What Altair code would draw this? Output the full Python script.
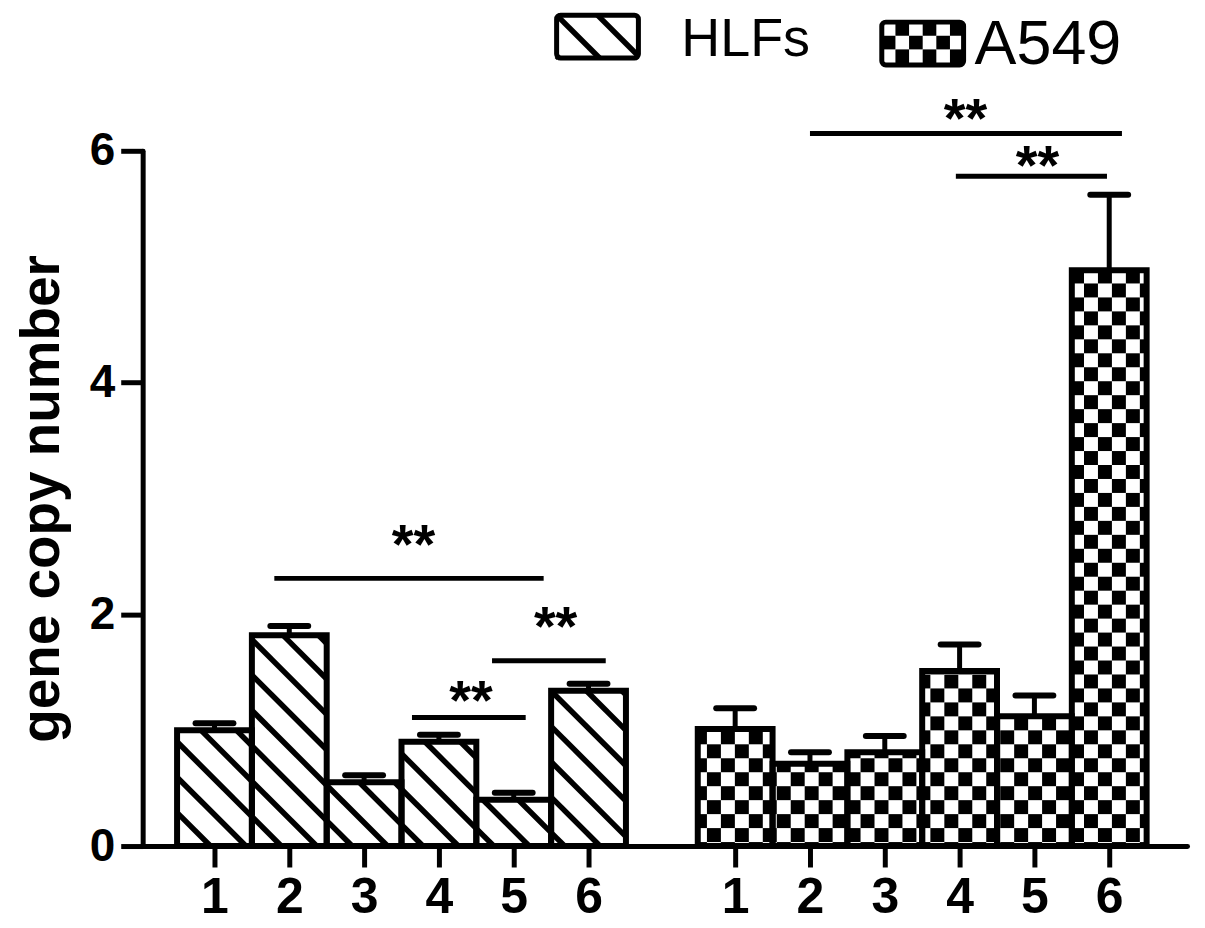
import json
import math
import altair as alt
import pandas as pd

# ---------------- data ----------------
groups = ["HLFs", "A549"]
labels = ["1", "2", "3", "4", "5", "6"]
hlf_mean = [1.00, 1.82, 0.55, 0.90, 0.40, 1.34]
hlf_err = [0.06, 0.08, 0.06, 0.06, 0.06, 0.06]
a549_mean = [1.01, 0.71, 0.81, 1.51, 1.12, 4.97]
a549_err = [0.18, 0.10, 0.14, 0.23, 0.18, 0.65]

# significance brackets (x from, x to, line height) and their "**" marks
sig_from = [1.80, 4.71, 3.64, 8.96, 10.91]
sig_to = [5.40, 6.23, 5.16, 13.13, 12.93]
sig_y = [2.31, 1.60, 1.11, 6.15, 5.78]
sig_star_x = [3.66, 5.56, 4.43, 11.04, 12.00]
sig_star_y = [2.71, 2.00, 1.36, 6.39, 5.98]
sig_text = ["**", "**", "**", "**", "**"]

# ---------------- layout ----------------
W, H = 1047, 697
X0, X1 = 0.04, 14.0
Y0, Y1 = 0.0, 6.0
GAP = 6.96
PPX = W / (X1 - X0)
PPY = H / (Y1 - Y0)
FONT = "Liberation Sans"


def x2px(x):
    return (x - X0) * PPX


def y2py(y):
    return (Y1 - y) * PPY


def px2x(px):
    return X0 + px / PPX


def py2y(py):
    return Y1 - py / PPY


def hatch(x0, x1, y0, y1, period, phase):
    segs = []
    cmin, cmax = y0 - x1, y1 - x0
    k0 = math.ceil((cmin - phase) / period)
    k1 = math.floor((cmax - phase) / period)
    for k in range(k0, k1 + 1):
        c = phase + k * period
        xa = max(x0, y0 - c)
        xb = min(x1, y1 - c)
        if xb - xa > 0.5:
            segs.append((xa, xa + c, xb, xb + c))
    return segs


def checker(x0, x1, y0, y1, size, ox, oy, parity=0):
    cells = []
    i0 = math.floor((x0 - ox) / size)
    i1 = math.floor((x1 - ox) / size)
    j0 = math.floor((y0 - oy) / size)
    j1 = math.floor((y1 - oy) / size)
    for i in range(i0, i1 + 1):
        for j in range(j0, j1 + 1):
            if (i + j) % 2 != parity:
                continue
            cx0 = max(x0, ox + i * size)
            cx1 = min(x1, ox + (i + 1) * size)
            cy0 = max(y0, oy + j * size)
            cy1 = min(y1, oy + (j + 1) * size)
            if cx1 - cx0 > 0.3 and cy1 - cy0 > 0.3:
                cells.append((cx0, cy0, cx1, cy1))
    return cells


# bars table
rows = []
for gi, (g, means, errs) in enumerate([("HLFs", hlf_mean, hlf_err), ("A549", a549_mean, a549_err)]):
    for i, (m, e) in enumerate(zip(means, errs)):
        pos = i + 1 + gi * GAP
        rows.append(dict(group=g, label=labels[i], pos=pos, xl=pos - 0.5, xr=pos + 0.5,
                         mean=m, top=m + e, capl=pos - 0.253, capr=pos + 0.253, base=0.0))
bars = pd.DataFrame(rows)

# pattern marks derived from the bars
hatch_rows, cell_rows = [], []
for r in rows:
    bx0, bx1 = x2px(r["xl"]), x2px(r["xr"])
    by0, by1 = y2py(r["mean"]), y2py(0.0)
    if r["group"] == "HLFs":
        for (xa, ya, xb, yb) in hatch(bx0, bx1, by0, by1, 35.5, 25.5):
            hatch_rows.append(dict(x=px2x(xa), y=py2y(ya), x2=px2x(xb), y2=py2y(yb)))
    else:
        for (cx0, cy0, cx1, cy1) in checker(bx0, bx1, by0, by1, 14.0, 5.7, 7.0, 0):
            cell_rows.append(dict(x=px2x(cx0), y=py2y(cy0), x2=px2x(cx1), y2=py2y(cy1)))

# legend (pixel positions relative to plot area, converted to data units)
LB1 = (415, -136, 497, -93)
LB2 = (741, -129, 823, -86)
for (xa, ya, xb, yb) in hatch(LB1[0], LB1[2], LB1[1], LB1[3], 41.0, -551.0):
    hatch_rows.append(dict(x=px2x(xa), y=py2y(ya), x2=px2x(xb), y2=py2y(yb)))
for (cx0, cy0, cx1, cy1) in checker(LB2[0], LB2[2], LB2[1], LB2[3], 82 / 6, LB2[0], LB2[1], 1):
    cell_rows.append(dict(x=px2x(cx0), y=py2y(cy0), x2=px2x(cx1), y2=py2y(cy1)))

hatch_df = pd.DataFrame(hatch_rows)
cell_df = pd.DataFrame(cell_rows)
legend_boxes = pd.DataFrame([
    dict(x=px2x(LB1[0]), y=py2y(LB1[1]), x2=px2x(LB1[2]), y2=py2y(LB1[3])),
    dict(x=px2x(LB2[0]), y=py2y(LB2[1]), x2=px2x(LB2[2]), y2=py2y(LB2[3])),
])
legend_text = pd.DataFrame([
    dict(x=px2x(540), y=py2y(-95), t=groups[0], s=54),
    dict(x=px2x(834), y=py2y(-87), t=groups[1], s=63),
])

sig = pd.DataFrame(dict(x=sig_from, x2=sig_to, y=sig_y, sx=sig_star_x, sy=sig_star_y, t=sig_text))

# ---------------- encodings ----------------
XS = alt.Scale(domain=[X0, X1], nice=False, zero=False)
YS = alt.Scale(domain=[Y0, Y1], nice=False, zero=False)

positions = list(bars["pos"])
label_expr = (f"{json.dumps(labels)}[round(datum.value < {GAP} ? datum.value : datum.value - {GAP}) - 1]")

x_axis = alt.Axis(values=positions, labelExpr=label_expr, title=None, grid=False,
                  tickSize=21, tickWidth=5, tickColor="black", domainWidth=5, domainColor="black",
                  labelFont=FONT, labelFontSize=50, labelFontWeight="bold", labelColor="black",
                  labelPadding=6, labelOverlap=False, labelFlush=False, domainCap="round")
y_axis = alt.Axis(values=[0, 2, 4, 6], format="d", title="gene copy number", grid=False,
                  tickSize=22, tickWidth=5, tickColor="black", domainWidth=5, domainColor="black",
                  labelFont=FONT, labelFontSize=46, labelFontWeight="bold", labelColor="black",
                  labelPadding=6, titleFont=FONT, titleFontSize=55, titleFontWeight="bold",
                  titleColor="black", titleAngle=270, titleX=-84, titleY=H / 2,
                  titleBaseline="alphabetic", titleAlign="center", domainCap="round")


def X(field):
    return alt.X(field, scale=XS, axis=x_axis)


def Y(field):
    return alt.Y(field, scale=YS, axis=y_axis)


hatch_layer = alt.Chart(hatch_df).mark_rule(color="black", strokeWidth=5.5, strokeCap="butt").encode(
    x=X("x:Q"), y=Y("y:Q"), x2="x2:Q", y2="y2:Q")

cell_layer = alt.Chart(cell_df).mark_rect(color="black").encode(
    x=X("x:Q"), y=Y("y:Q"), x2="x2:Q", y2="y2:Q")

bar_layer = alt.Chart(bars).mark_rect(fillOpacity=0, stroke="black", strokeWidth=6).encode(
    x=X("xl:Q"), x2="xr:Q", y=Y("base:Q"), y2="mean:Q")

stem_layer = alt.Chart(bars).mark_rule(color="black", strokeWidth=5).encode(
    x=X("pos:Q"), y=Y("mean:Q"), y2="top:Q")

cap_layer = alt.Chart(bars).mark_rule(color="black", strokeWidth=6, strokeCap="round").encode(
    x=X("capl:Q"), x2="capr:Q", y=Y("top:Q"))

sig_layer = alt.Chart(sig).mark_rule(color="black", strokeWidth=5).encode(
    x=X("x:Q"), x2="x2:Q", y=Y("y:Q"))

star_layer = alt.Chart(sig).mark_text(font=FONT, fontSize=56, fontWeight="bold", color="black",
                                      align="center", baseline="alphabetic", dy=31).encode(
    x=X("sx:Q"), y=Y("sy:Q"), text="t:N")

lbox_layer = alt.Chart(legend_boxes).mark_rect(fillOpacity=0, stroke="black", strokeWidth=5,
                                               cornerRadius=4).encode(
    x=X("x:Q"), x2="x2:Q", y=Y("y:Q"), y2="y2:Q")

ltext_layer = alt.Chart(legend_text).mark_text(font=FONT, color="black", align="left",
                                               baseline="alphabetic").encode(
    x=X("x:Q"), y=Y("y:Q"), text="t:N",
    size=alt.Size("s:Q", scale=None, legend=None))

chart = alt.layer(hatch_layer, cell_layer, bar_layer, stem_layer, cap_layer, sig_layer, star_layer,
                  lbox_layer, ltext_layer).properties(
    width=W, height=H,
    autosize=alt.AutoSizeParams(type="none"),
    padding={"left": 135, "top": 142, "right": 10, "bottom": 80},
).configure_view(stroke=None)

chart.save("out.html", embed_options={"renderer": "svg", "actions": False})
